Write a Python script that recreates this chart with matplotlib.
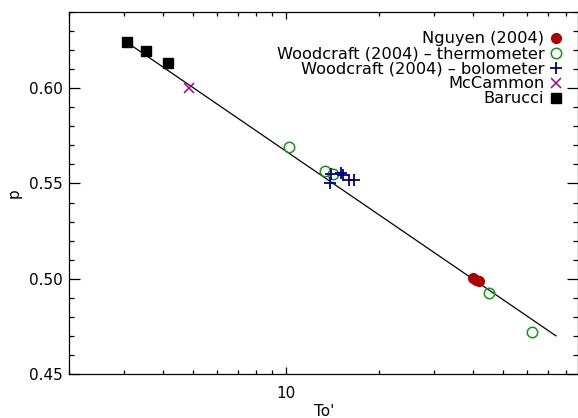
import numpy as np
import matplotlib
matplotlib.use('Agg')
import matplotlib.pyplot as plt
from matplotlib.ticker import MultipleLocator, FixedLocator, NullFormatter, FormatStrFormatter

# data
nguyen_T = [40.2, 41.0, 41.9]
nguyen_p = [0.5003, 0.4995, 0.4986]

wood_therm_T = [10.25, 13.36, 14.21, 45.1, 62.0]
wood_therm_p = [0.569, 0.5567, 0.555, 0.4927, 0.4721]

wood_bolo_T = [13.92, 13.81, 14.99, 15.28, 15.97, 16.57]
wood_bolo_p = [0.5548, 0.5503, 0.5553, 0.5543, 0.5519, 0.5519]

mccammon_T = [4.87]
mccammon_p = [0.600]

barucci_T = [3.06, 3.53, 4.16]
barucci_p = [0.624, 0.6193, 0.613]

fit_T = [3.1, 74.3]
fit_p = [0.6235, 0.4700]

plt.rcParams['font.family'] = 'DejaVu Sans'
fig = plt.figure(figsize=(5.78, 4.18), dpi=100)
ax = fig.add_axes([0.1202, 0.1053, 0.8798, 0.866])

ax.plot(fit_T, fit_p, color='black', lw=0.9)
ax.plot(nguyen_T, nguyen_p, 'o', color='#aa0000', ms=7, ls='none', label='Nguyen (2004)')
ax.plot(wood_therm_T, wood_therm_p, 'o', mfc='none', mec='#119911', mew=1.1, ms=7.5, ls='none',
        label='Woodcraft (2004) – thermometer')
ax.plot(wood_bolo_T, wood_bolo_p, '+', color='#000090', mew=1.3, ms=8, ls='none',
        label='Woodcraft (2004) – bolometer')
ax.plot(mccammon_T, mccammon_p, 'x', color='#aa0099', mew=1.1, ms=7.5, ls='none', label='McCammon')
ax.plot(barucci_T, barucci_p, 's', color='black', ms=7, ls='none', label='Barucci')

ax.set_xscale('log')
ax.set_xlim(2.0, 87.5)
ax.set_ylim(0.45, 0.64)

ax.xaxis.set_major_locator(FixedLocator([10]))
ax.xaxis.set_minor_locator(FixedLocator([2, 3, 4, 5, 6, 7, 8, 9, 20, 30, 40, 50, 60, 70, 80]))
ax.xaxis.set_minor_formatter(NullFormatter())
ax.xaxis.set_major_formatter(FormatStrFormatter('%d'))
ax.yaxis.set_major_locator(MultipleLocator(0.05))
ax.yaxis.set_minor_locator(MultipleLocator(0.01))
ax.yaxis.set_major_formatter(FormatStrFormatter('%.2f'))

ax.tick_params(axis='both', which='both', direction='in', top=True, right=True, labelsize=11, width=0.9)
ax.tick_params(axis='x', which='major', length=5.2, pad=8.5)
ax.tick_params(axis='x', which='minor', length=2.6)
ax.tick_params(axis='y', which='major', length=7.6, pad=5)
ax.tick_params(axis='y', which='minor', length=3.6)
for s in ax.spines.values():
    s.set_linewidth(0.9)

ax.set_xlabel("To'", fontsize=11, labelpad=2)
ax.set_ylabel('p', fontsize=11, labelpad=5)

ax.legend(loc='upper right', bbox_to_anchor=(0.991, 0.978), frameon=False, markerfirst=False,
          fontsize=11.7, handlelength=0.8, handletextpad=0.3, labelspacing=0.0, borderpad=0.2)

fig.savefig('out.png', dpi=100)
